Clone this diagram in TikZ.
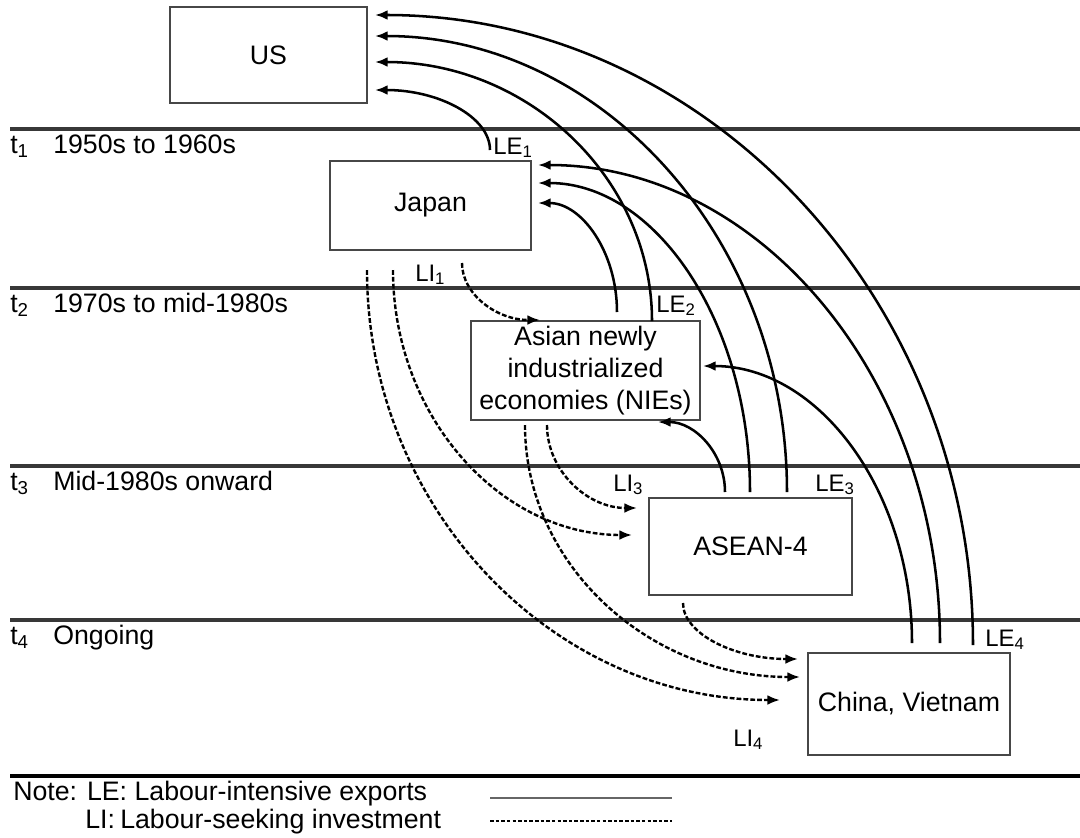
\documentclass[tikz,border=0pt]{standalone}
\usepackage{fontspec}
\setmainfont{Liberation Sans}
\usetikzlibrary{arrows.meta,calc}
\newcommand\qarcx[3]{\draw[#1] (#2) .. controls ($(#2)!0.552!(#2|-#3)$) and ($(#3)!0.552!(#2|-#3)$) .. (#3);}
\begin{document}
\begin{tikzpicture}[x=0.025cm,y=-0.025cm,
  box/.style={draw=black!72, line width=1.5pt, inner sep=0pt, font=\fontsize{19}{22.7}\selectfont, align=center},
  rule/.style={line width=2.3pt, draw=black!78},
  le/.style={line width=1.8pt, -{Latex[length=9pt,width=7pt]}},
  li/.style={line width=1.7pt, dash pattern=on 3.4pt off 1.5pt, -{Latex[length=9pt,width=7pt]}},
  lbl/.style={anchor=base west, inner sep=0pt, font=\fontsize{17}{20}\selectfont},
  per/.style={anchor=base west, inner sep=0pt, font=\fontsize{19}{23}\selectfont},
  notetext/.style={anchor=base west, inner sep=0pt, font=\fontsize{19}{23}\selectfont}]
\useasboundingbox (0,0) rectangle (1080,837);
\fill[white] (0,0) rectangle (1080,837);

% period rules
\draw[rule] (10,129) -- (1080,129);
\draw[rule] (10,288) -- (1080,288);
\draw[rule] (10,466) -- (1080,466);
\draw[rule] (10,620) -- (1080,620);
\draw[line width=3pt, black] (10,776) -- (1080,776);

% period labels
\node[per] (t1) at (10,153) {t\textsubscript{1}};
\node[per] (p1) at (53,153) {1950s to 1960s};
\node[per] (t2) at (10,312) {t\textsubscript{2}};
\node[per] (p2) at (53,312) {1970s to mid-1980s};
\node[per] (t3) at (10,490) {t\textsubscript{3}};
\node[per] (p3) at (53,490) {Mid-1980s onward};
\node[per] (t4) at (10,644) {t\textsubscript{4}};
\node[per] (p4) at (53,644) {Ongoing};

% boxes
\node[box, minimum width=4.925cm, minimum height=2.4cm] (US) at (268.5,55) {US};
\node[box, minimum width=5.025cm, minimum height=2.225cm] (JP) at (430.5,205.5) {Japan};
\node[box, minimum width=5.725cm, minimum height=2.475cm] (NIE) at (585.5,370.5) {Asian newly\\industrialized\\economies (NIEs)};
\node[box, minimum width=5.075cm, minimum height=2.425cm] (AS) at (750.5,546.5) {ASEAN-4};
\node[box, minimum width=5.05cm, minimum height=2.55cm] (CN) at (909,704) {China, Vietnam};

% connector ends
\coordinate (usA) at (375,15);
\coordinate (usB) at (375,36);
\coordinate (usC) at (375,62);
\coordinate (usD) at (375,90);
\coordinate (jpA) at (538,165);
\coordinate (jpB) at (538,183);
\coordinate (jpC) at (538,203);
\coordinate (niA) at (703,366);
\coordinate (niB) at (658,422);
\coordinate (jpS) at (490,150);
\coordinate (niS1) at (617,312);
\coordinate (niS2) at (652,321);
\coordinate (asS1) at (725,492);
\coordinate (asS2) at (750,492);
\coordinate (asS3) at (787,492);
\coordinate (cnS1) at (912,643);
\coordinate (cnS2) at (940,643);
\coordinate (cnS3) at (973,645);

% labour-intensive exports
\qarcx{le}{jpS}{usD}
\qarcx{le}{niS1}{jpC}
\qarcx{le}{niS2}{usC}
\qarcx{le}{asS1}{niB}
\qarcx{le}{asS2}{jpB}
\qarcx{le}{asS3}{usB}
\qarcx{le}{cnS1}{niA}
\qarcx{le}{cnS2}{jpA}
\qarcx{le}{cnS3}{usA}

% labour-seeking investment
\coordinate (jpD1) at (367,270);
\coordinate (jpD2) at (393,270);
\coordinate (jpD3) at (462,263);
\coordinate (niD1) at (525,425);
\coordinate (niD2) at (547,425);
\coordinate (asD1) at (683,603);
\coordinate (niT) at (540,320);
\coordinate (asT1) at (637,508);
\coordinate (asT2) at (632,535);
\coordinate (cnT1) at (798,659);
\coordinate (cnT2) at (800,677);
\coordinate (cnT3) at (780,700);
\qarcx{li}{jpD3}{niT}
\qarcx{li}{jpD2}{asT2}
\qarcx{li}{jpD1}{cnT3}
\qarcx{li}{niD2}{asT1}
\qarcx{li}{niD1}{cnT2}
\qarcx{li}{asD1}{cnT1}

% flow labels
\node[lbl] (LE1) at (493,154) {LE\textsubscript{1}};
\node[lbl] (LE2) at (656,312) {LE\textsubscript{2}};
\node[lbl] (LE3) at (815,491) {LE\textsubscript{3}};
\node[lbl] (LE4) at (985,646) {LE\textsubscript{4}};
\node[lbl] (LI1) at (415,281) {LI\textsubscript{1}};
\node[lbl] (LI3) at (613,491) {LI\textsubscript{3}};
\node[lbl] (LI4) at (733,746) {LI\textsubscript{4}};

% note
\node[notetext] (note) at (13,800) {Note: LE: Labour-intensive exports};
\node[notetext] (noteLI) at (85,828) {LI:};
\node[notetext] (noteLI2) at (120,828) {Labour-seeking investment};
\coordinate (leA) at (490,798);
\coordinate (leB) at (672,798);
\coordinate (liA) at (490,821);
\coordinate (liB) at (672,821);
\draw[line width=1.6pt, draw=black!60] (leA) -- (leB);
\draw[line width=1.3pt, dash pattern=on 2.5pt off 1.5pt] (liA) -- (liB);
\end{tikzpicture}
\end{document}
